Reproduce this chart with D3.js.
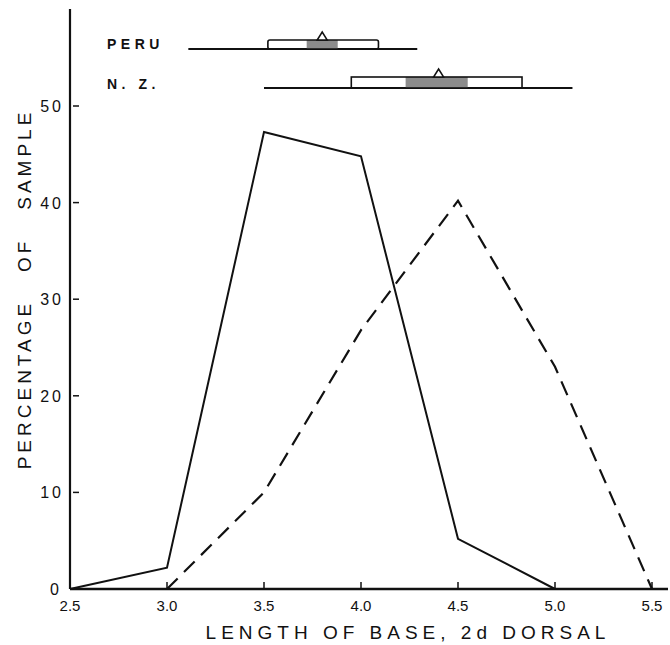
<!DOCTYPE html>
<html>
<head>
<meta charset="utf-8">
<script src="https://cdn.jsdelivr.net/npm/d3@7"></script>
<style>
  body { margin: 0; background: #fff; }
  text { font-family: "Liberation Sans", "DejaVu Sans", sans-serif; fill: #111; }
</style>
</head>
<body>
<div id="chart"></div>
<script>
// x values (length of base, 2d dorsal)
const xValues = [2.5, 3.0, 3.5, 4.0, 4.5, 5.0, 5.5];
const xTickLabels = ["2.5", "3.0", "3.5", "4.0", "4.5", "5.0", "5.5"];
const yTicks = [0, 10, 20, 30, 40, 50];

// percentage of sample, Peru (solid) and N.Z. (dashed)
const peru = [0, 2.2, 47.3, 44.8, 5.2, 0, null];
const nz = [null, 0, 10, 26.8, 40.2, 23, 0];

// summary bars at top: range, box, shaded part, mean
const groups = ["PERU", "N. Z."];
const rangeLo = [3.11, 3.50];
const rangeHi = [4.29, 5.09];
const boxLo = [3.52, 3.95];
const boxHi = [4.09, 4.83];
const shadeLo = [3.72, 4.23];
const shadeHi = [3.88, 4.55];
const means = [3.80, 4.40];

const W = 670, H = 645;
const svg = d3.select("#chart").append("svg")
  .attr("width", W).attr("height", H);

const x = d3.scaleLinear().domain([2.5, 5.5]).range([70, 652]);
const y = d3.scaleLinear().domain([0, 50]).range([589, 106]);

// axes lines
svg.append("line")
  .attr("x1", x(2.5)).attr("x2", x(2.5))
  .attr("y1", 9).attr("y2", y(0))
  .attr("stroke", "#111").attr("stroke-width", 2.2);
svg.append("line")
  .attr("x1", x(2.5)).attr("x2", 668)
  .attr("y1", y(0)).attr("y2", y(0))
  .attr("stroke", "#111").attr("stroke-width", 2.5);

// x ticks
svg.selectAll(".xt").data(xValues.slice(1)).join("line")
  .attr("x1", d => x(d)).attr("x2", d => x(d))
  .attr("y1", y(0) - 7).attr("y2", y(0))
  .attr("stroke", "#111").attr("stroke-width", 1.5);
svg.selectAll(".xl").data(xValues).join("text")
  .attr("x", d => x(d)).attr("y", 611)
  .attr("text-anchor", "middle")
  .attr("font-family", "DejaVu Sans")
  .attr("font-size", 15)
  .text((d, i) => xTickLabels[i]);

// y ticks
svg.selectAll(".yt").data(yTicks.slice(1)).join("line")
  .attr("x1", x(2.5) + 3).attr("x2", x(2.5) + 9)
  .attr("y1", d => y(d)).attr("y2", d => y(d))
  .attr("stroke", "#111").attr("stroke-width", 1.5);
svg.selectAll(".yl").data(yTicks).join("text")
  .attr("x", d => d === 0 ? 62 : 64)
  .attr("y", d => y(d) + 6)
  .attr("text-anchor", "end")
  .attr("font-family", "DejaVu Sans")
  .attr("font-size", 16)
  .attr("letter-spacing", 3)
  .text(d => d);

// axis titles
svg.append("text")
  .attr("x", 408).attr("y", 639)
  .attr("text-anchor", "middle")
  .attr("font-size", 19)
  .attr("letter-spacing", 5)
  .attr("font-family", "DejaVu Sans")
  .attr("font-weight", 300)
  .text("LENGTH OF BASE, 2d DORSAL");
svg.append("text")
  .attr("transform", "translate(31,289) rotate(-90)")
  .attr("text-anchor", "middle")
  .attr("font-size", 19)
  .attr("letter-spacing", 4)
  .style("white-space", "pre")
  .text("PERCENTAGE   OF   SAMPLE");

// data lines
const line = d3.line()
  .defined(d => d[1] !== null)
  .x(d => x(d[0]))
  .y(d => y(d[1]));

svg.append("path")
  .datum(xValues.map((v, i) => [v, peru[i]]))
  .attr("d", line)
  .attr("fill", "none").attr("stroke", "#111").attr("stroke-width", 2);

svg.append("path")
  .datum(xValues.map((v, i) => [v, nz[i]]))
  .attr("d", line)
  .attr("fill", "none").attr("stroke", "#111").attr("stroke-width", 2.2)
  .attr("stroke-dasharray", "15,9");

// summary bars
const rowBase = [49, 88];
const boxH = [9, 11];
groups.forEach((g, i) => {
  const b = rowBase[i];
  const gr = svg.append("g");
  gr.append("text")
    .attr("x", 107).attr("y", b + (i === 0 ? 0 : 1))
    .attr("font-size", 14).attr("font-weight", "bold")
    .attr("letter-spacing", 4.5)
    .text(g);
  gr.append("line")
    .attr("x1", x(rangeLo[i])).attr("x2", x(rangeHi[i]))
    .attr("y1", b).attr("y2", b)
    .attr("stroke", "#111").attr("stroke-width", 1.8);
  gr.append("rect")
    .attr("x", x(shadeLo[i])).attr("width", x(shadeHi[i]) - x(shadeLo[i]))
    .attr("y", b - boxH[i]).attr("height", boxH[i])
    .attr("fill", "#8c8c8c");
  gr.append("rect")
    .attr("x", x(boxLo[i])).attr("width", x(boxHi[i]) - x(boxLo[i]))
    .attr("y", b - boxH[i]).attr("height", boxH[i])
    .attr("rx", i === 0 ? 2 : 0)
    .attr("fill", "none").attr("stroke", "#111").attr("stroke-width", 1.6);
  const mx = x(means[i]), top = b - boxH[i];
  gr.append("path")
    .attr("d", `M${mx - 5},${top} L${mx},${top - 8} L${mx + 5},${top} Z`)
    .attr("fill", "#fff").attr("stroke", "#111").attr("stroke-width", 1.5);
});
</script>
</body>
</html>
